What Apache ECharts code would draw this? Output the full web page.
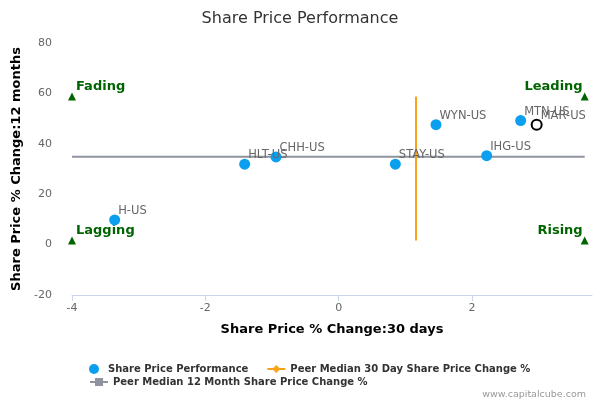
<!DOCTYPE html>
<html>
<head>
<meta charset="utf-8">
<script src="https://cdn.jsdelivr.net/npm/echarts@6/dist/echarts.min.js"></script>
<style>
  html, body { margin: 0; padding: 0; background: #fff; }
  #chart { width: 600px; height: 400px; }
</style>
</head>
<body>
<div id="chart"></div>
<script>
// peers: [30 day %, 12 month %]
var tickers = ["H-US", "HLT-US", "CHH-US", "STAY-US", "WYN-US", "IHG-US", "MTN-US"];
var change30d = [-3.36, -1.41, -0.94, 0.85, 1.46, 2.22, 2.73];
var change12m = [9.8, 31.9, 34.8, 31.9, 47.6, 35.3, 49.2];

// the company itself (open circle)
var selfTicker = "MAR-US";
var self30d = 2.97;
var self12m = 47.6;

// peer medians
var median30d = 1.16;
var median12m = 34.9;
var median30dSpan = [1.6, 58.8];
var median12mSpan = [-4, 3.69];

// quadrant corners
var quadrantNames = ["Fading", "Leading", "Lagging", "Rising"];
var quadrantX = [-4, 3.69, -4, 3.69];
var quadrantY = [58.8, 58.8, 1.6, 1.6];

var xTicks = [-4, -2, 0, 2];
var yTicks = [-20, 0, 20, 40, 60, 80];

var FONT = "DejaVu Sans";

var peerLabel = {
  show: true,
  position: "right",
  offset: [-7, -9],
  color: "#666",
  fontSize: 11.5,
  fontFamily: FONT,
  formatter: function (p) { return p.data.name; },
};

var peerData = tickers.map(function (t, i) {
  return { name: t, value: [change30d[i], change12m[i]] };
});

var quadrantData = quadrantNames.map(function (q, i) {
  var right = quadrantX[i] > 0;
  return {
    name: q,
    value: [quadrantX[i], quadrantY[i]],
    label: {
      show: true,
      position: right ? "left" : "right",
      offset: right ? [7, -10] : [-5, -10],
      color: "#006400",
      fontWeight: "bold",
      fontSize: 13,
      fontFamily: FONT,
      formatter: q,
    },
  };
});

var legendText = { color: "#333", fontSize: 10, fontWeight: "bold", fontFamily: FONT };

var chart = echarts.init(document.getElementById("chart"));

var option = {
  animation: false,
  textStyle: { fontFamily: FONT },
  title: [
    {
      text: "Share Price Performance",
      left: "center",
      top: 6,
      textStyle: { color: "#333", fontSize: 16, fontWeight: "normal", fontFamily: FONT },
    },
    {
      text: "www.capitalcube.com",
      right: 9,
      top: 385,
      textStyle: { color: "#999", fontSize: 9.5, fontWeight: "normal", fontFamily: FONT },
    },
  ],
  grid: { left: 72, right: 8, top: 43, bottom: 105 },
  legend: [
    {
      left: 84,
      top: 359,
      itemGap: 18,
      itemWidth: 18,
      itemHeight: 10,
      textStyle: legendText,
      data: ["Share Price Performance", "Peer Median 30 Day Share Price Change %"],
    },
    {
      left: 84,
      top: 372,
      itemWidth: 18,
      itemHeight: 10,
      textStyle: legendText,
      data: ["Peer Median 12 Month Share Price Change %"],
    },
  ],
  xAxis: {
    type: "value",
    min: xTicks[0],
    max: 3.8,
    interval: 2,
    splitLine: { show: false },
    axisLine: { show: true, onZero: false, lineStyle: { color: "#ccd6eb" } },
    axisTick: { show: true, length: 6, lineStyle: { color: "#ccd6eb" } },
    axisLabel: { showMaxLabel: false, color: "#666", fontSize: 11, margin: 8 },
    name: "Share Price % Change:30 days",
    nameLocation: "middle",
    nameGap: 28,
    nameTextStyle: { color: "#000", fontSize: 13, fontWeight: "bold", fontFamily: FONT },
  },
  yAxis: {
    type: "value",
    min: yTicks[0],
    max: yTicks[yTicks.length - 1],
    interval: 20,
    splitLine: { show: false },
    axisLine: { show: false },
    axisTick: { show: false },
    axisLabel: { color: "#666", fontSize: 11, margin: 20 },
    name: "Share Price % Change:12 months",
    nameLocation: "middle",
    nameGap: 43,
    nameTextStyle: { color: "#000", fontSize: 13, fontWeight: "bold", fontFamily: FONT },
  },
  series: [
    {
      name: "Peer Median 12 Month Share Price Change %",
      type: "line",
      symbol: "rect",
      symbolSize: 9,
      showSymbol: false,
      color: "#8f939e",
      lineStyle: { color: "#8f939e", width: 2 },
      data: [[median12mSpan[0], median12m], [median12mSpan[1], median12m]],
      z: 1,
    },
    {
      name: "Peer Median 30 Day Share Price Change %",
      type: "line",
      symbol: "diamond",
      symbolSize: 10,
      showSymbol: false,
      color: "#f7a21b",
      lineStyle: { color: "#f7a21b", width: 2 },
      data: [[median30d, median30dSpan[0]], [median30d, median30dSpan[1]]],
      z: 1,
    },
    {
      name: "Share Price Performance",
      type: "scatter",
      symbol: "circle",
      symbolSize: 11,
      color: "#0aa0ef",
      itemStyle: { opacity: 1 },
      label: peerLabel,
      data: peerData,
      z: 3,
    },
    {
      name: "self",
      type: "scatter",
      symbol: "circle",
      symbolSize: 10,
      itemStyle: { color: "#fff", borderColor: "#000", borderWidth: 2, opacity: 1 },
      label: peerLabel,
      data: [{ name: selfTicker, value: [self30d, self12m] }],
      z: 4,
    },
    {
      name: "quadrants",
      type: "scatter",
      symbol: "triangle",
      symbolSize: 8,
      color: "#006400",
      itemStyle: { opacity: 1 },
      data: quadrantData,
      z: 2,
    },
  ],
};

option && chart.setOption(option);
</script>
</body>
</html>
